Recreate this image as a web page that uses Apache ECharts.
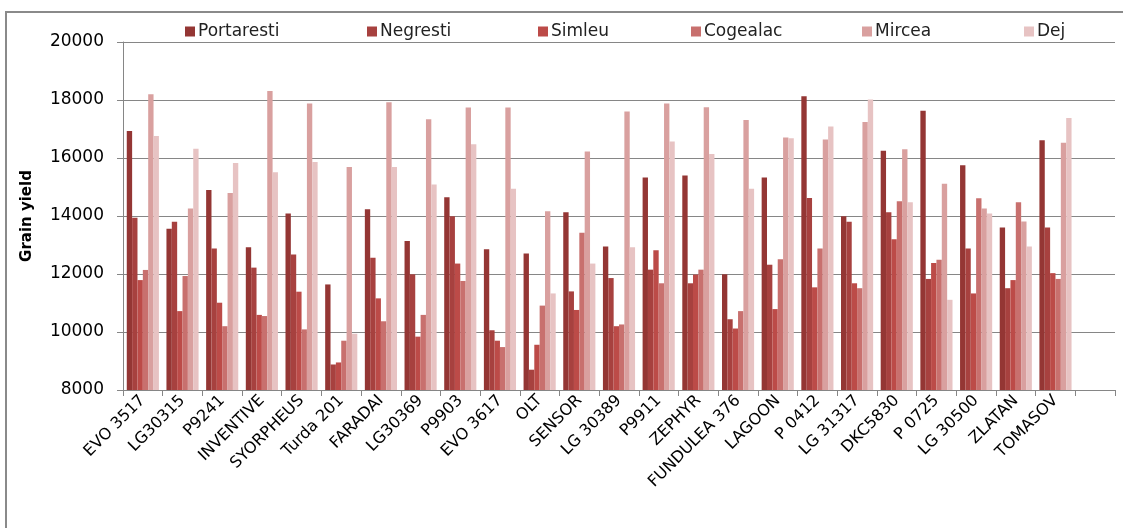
<!DOCTYPE html>
<html>
<head>
<meta charset="utf-8">
<script src="https://cdn.jsdelivr.net/npm/echarts@6/dist/echarts.min.js"></script>
<style>
  html, body { margin: 0; padding: 0; background: #fff; }
  #chart { width: 1123px; height: 528px; }
</style>
</head>
<body>
<div id="chart"></div>
<script>
const categories = ['EVO 3517','LG30315','P9241','INVENTIVE','SYORPHEUS','Turda 201','FARADAI','LG30369','P9903','EVO 3617','OLT','SENSOR','LG 30389','P9911','ZEPHYR','FUNDULEA 376','LAGOON','P 0412','LG 31317','DKC5830','P 0725','LG 30500','ZLATAN','TOMASOV',''];
const seriesNames = ['Portaresti','Negresti','Simleu','Cogealac','Mircea','Dej'];
const portaresti = [16930,13560,14900,12920,14090,11640,14230,13140,14650,12850,12710,14130,12950,15330,15400,11990,15330,18130,13990,16250,17630,15750,13600,16610];
const negresti   = [13940,13800,12880,12220,12670,8880,12560,11990,13990,10060,8700,11400,11860,12150,11680,10440,12320,14620,13800,14130,11830,12880,11510,13600];
const simleu     = [11790,10720,11010,10590,11390,8950,11160,9840,12360,9700,9560,10760,10200,12820,11980,10120,10790,11540,11680,13200,12380,11330,11790,12030];
const cogealac   = [12140,11930,10200,10550,10090,9700,10370,10590,11760,9480,10910,13420,10260,11680,12150,10720,12510,12880,11510,14510,12490,14610,14470,11830];
const mircea     = [18200,14260,14790,18310,17880,15690,17920,17340,17740,17740,14160,16220,17600,17880,17750,17310,16710,16640,17240,16300,15110,14260,13810,16530];
const dej        = [16760,16320,15830,15510,15860,9940,15690,15090,16470,14940,11330,12360,12920,16570,16140,14940,16680,17090,18020,14470,11110,14090,12950,17380];
const seriesValues = [portaresti, negresti, simleu, cogealac, mircea, dej];
const colors = ['#943634','#A7413F','#BC4B48','#C8706E','#D9A09F','#E7C3C3'];
const legendLeft = [185, 367, 538, 691, 862, 1024];

const FONT = 'DejaVu Sans';
const chart = echarts.init(document.getElementById('chart'), null, { renderer: 'canvas' });

const legends = seriesNames.map((n, i) => ({
  data: [n],
  left: legendLeft[i],
  top: 23,
  icon: 'rect',
  itemWidth: 10,
  itemHeight: 10,
  itemGap: 0,
  padding: 0,
  selectedMode: false,
  textStyle: { fontFamily: FONT, fontSize: 17, color: '#222', padding: [0, 0, 0, -2] }
}));

chart.setOption({
  animation: false,
  backgroundColor: '#fff',
  textStyle: { fontFamily: FONT },
  graphic: [{
    type: 'rect',
    z: -10,
    shape: { x: 6, y: 12, width: 1130, height: 530 },
    style: { fill: 'none', stroke: '#8a8a8a', lineWidth: 2 }
  }],
  legend: legends,
  grid: { left: 123, right: 8, top: 42, bottom: 138 },
  xAxis: {
    type: 'category',
    data: categories,
    boundaryGap: true,
    axisLine: { lineStyle: { color: '#868686', width: 1 } },
    axisTick: { show: true, length: 6, interval: 0, lineStyle: { color: '#868686' } },
    axisLabel: { interval: 0, rotate: 45, fontFamily: FONT, fontSize: 16, color: '#000', margin: 8 }
  },
  yAxis: {
    type: 'value',
    min: 8000,
    max: 20000,
    interval: 2000,
    name: 'Grain yield',
    nameLocation: 'middle',
    nameGap: 88,
    nameTextStyle: { fontFamily: FONT, fontSize: 15, fontWeight: 'bold', color: '#000' },
    axisLine: { show: true, lineStyle: { color: '#868686', width: 1 } },
    axisTick: { show: true, length: 6, lineStyle: { color: '#868686' } },
    axisLabel: { fontFamily: FONT, fontSize: 17, color: '#000', margin: 19, formatter: v => String(v) },
    splitLine: { show: true, lineStyle: { color: '#868686', width: 1 } }
  },
  series: seriesNames.map((n, i) => ({
    name: n,
    type: 'bar',
    data: seriesValues[i],
    barGap: '0%',
    barCategoryGap: '19%',
    itemStyle: { color: colors[i] }
  }))
});
</script>
</body>
</html>
